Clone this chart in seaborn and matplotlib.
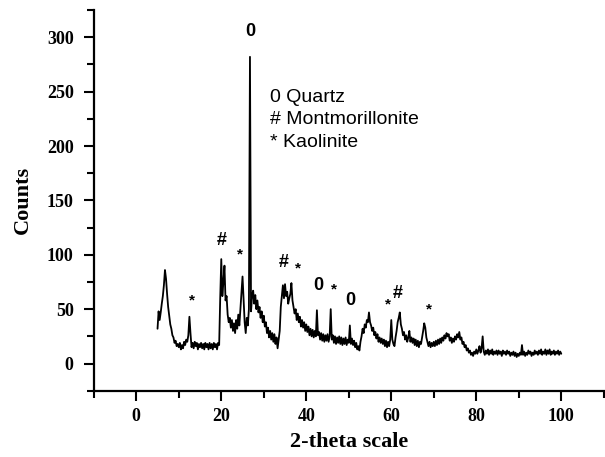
import numpy as np
import pandas as pd
import matplotlib
matplotlib.use('Agg')
import matplotlib.pyplot as plt
from matplotlib.ticker import MultipleLocator
import seaborn as sns

# 2-theta grid, 0.25 deg steps from 5 to 100
two_theta = np.arange(5.0, 100.001, 0.25)

# counts, one row per 5 degrees
counts = [
    32, 48, 40, 47, 55, 62, 72, 86, 78, 64, 52, 44, 36, 32, 26, 24, 19, 21, 16, 18,   # 5
    15, 19, 13, 17, 14, 20, 17, 22, 20, 26, 43, 28, 15, 19, 14, 20, 16, 19, 13, 18,   # 10
    15, 19, 14, 18, 13, 19, 15, 18, 13, 19, 14, 18, 13, 19, 15, 18, 13, 19, 17, 60,   # 15
    96, 62, 75, 90, 58, 62, 45, 38, 42, 33, 40, 30, 37, 28, 40, 32, 45, 35, 50, 65,   # 20
    80, 60, 38, 28, 42, 35, 50, 282, 48, 62, 67, 55, 63, 50, 58, 47, 52, 42, 48, 38,  # 25
    44, 34, 38, 28, 33, 24, 30, 22, 28, 20, 27, 18, 24, 14, 22, 30, 52, 62, 72, 60,   # 30
    73, 62, 66, 55, 60, 64, 74, 58, 52, 46, 50, 40, 46, 38, 43, 34, 40, 33, 38, 30,   # 35
    36, 29, 34, 26, 32, 25, 31, 24, 30, 25, 49, 26, 29, 22, 28, 21, 27, 20, 26, 21,   # 40
    27, 20, 25, 50, 22, 26, 19, 25, 18, 24, 19, 25, 18, 24, 17, 23, 18, 24, 17, 22,   # 45
    19, 35, 18, 23, 17, 21, 15, 19, 13, 16, 12, 20, 25, 32, 28, 36, 33, 40, 38, 47,   # 50
    38, 35, 30, 33, 26, 29, 23, 27, 20, 24, 19, 23, 18, 22, 16, 21, 15, 20, 16, 22,   # 55
    40, 22, 18, 16, 24, 30, 38, 42, 47, 36, 32, 26, 29, 22, 26, 20, 24, 30, 20, 24,   # 60
    19, 23, 17, 22, 16, 21, 15, 20, 18, 24, 30, 37, 33, 24, 20, 16, 20, 15, 19, 16,   # 65
    20, 16, 21, 17, 22, 18, 23, 19, 24, 21, 26, 23, 28, 25, 27, 21, 24, 19, 23, 20,   # 70
    25, 22, 27, 24, 29, 22, 24, 18, 20, 15, 17, 12, 14, 10, 12, 8, 10, 7, 11, 9,      # 75
    13, 9, 12, 16, 10, 14, 25, 11, 8, 12, 9, 13, 8, 12, 9, 13, 8, 11, 9, 12,          # 80
    8, 12, 9, 11, 7, 12, 9, 11, 8, 12, 9, 11, 7, 10, 8, 11, 7, 10, 6, 9,              # 85
    7, 10, 8, 17, 8, 11, 7, 10, 8, 12, 9, 11, 7, 10, 8, 12, 9, 11, 8, 12,             # 90
    9, 13, 8, 11, 9, 13, 8, 12, 9, 13, 8, 11, 9, 12, 8, 11, 9, 12, 8, 11,             # 95
    9,                                                                                 # 100
]

# phase marks above the peaks
peak_marks = ['0', '*', '#', '*', '#', '*', '0', '*', '0', '*', '#', '*']
peak_x = [26.8, 13.2, 20.2, 24.5, 34.8, 38.1, 42.8, 46.4, 50.4, 59.3, 61.6, 68.9]
peak_y = [305, 58, 113, 100, 93, 87, 72, 68, 58, 54, 64, 50]

key_lines = ['0 Quartz', '# Montmorillonite', '* Kaolinite']
key_y = [245, 224, 203]


def main():
    df = pd.DataFrame({'two_theta': two_theta, 'counts': counts})

    sns.set_style('ticks')
    plt.rcParams['font.family'] = ['Liberation Serif', 'DejaVu Serif']
    plt.rcParams['text.color'] = 'black'
    plt.rcParams['axes.labelcolor'] = 'black'
    plt.rcParams['xtick.color'] = 'black'
    plt.rcParams['ytick.color'] = 'black'
    sans = ['Liberation Sans', 'DejaVu Sans']

    fig = plt.figure(figsize=(6.05, 4.57), dpi=100)
    ax = fig.add_axes([0.155, 0.145, 0.843, 0.833])

    sns.lineplot(data=df, x='two_theta', y='counts', color='black',
                 linewidth=1.3, ax=ax)

    for m, x, y in zip(peak_marks, peak_x, peak_y):
        size = 11 if m == '*' else 13
        ax.text(x, y, m, ha='center', va='center', fontsize=size,
                fontweight='bold', family=sans, color='black')

    for line, y in zip(key_lines, key_y):
        ax.text(31.5, y, line, ha='left', va='center', fontsize=14,
                family=sans, color='black')

    ax.set_xlim(-10, 110)
    ax.set_ylim(-25, 325)
    ax.set_xticks([0, 20, 40, 60, 80, 100])
    ax.set_yticks([0, 50, 100, 150, 200, 250, 300])
    ax.xaxis.set_minor_locator(MultipleLocator(10))
    ax.yaxis.set_minor_locator(MultipleLocator(25))

    ax.tick_params(which='major', direction='out', length=7.5, width=1.5,
                   labelsize=13, colors='black')
    ax.tick_params(axis='y', which='major', pad=7)
    ax.tick_params(axis='x', which='major', pad=5)
    ax.tick_params(which='minor', direction='out', length=5, width=1.5,
                   colors='black')
    for lab in ax.get_xticklabels() + ax.get_yticklabels():
        lab.set_fontweight('bold')

    sns.despine(ax=ax)
    for side in ['left', 'bottom']:
        ax.spines[side].set_linewidth(1.6)
        ax.spines[side].set_color('black')

    ax.set_xlabel('2-theta scale', fontsize=16, fontweight='bold', labelpad=5)
    ax.set_ylabel('Counts', fontsize=16, fontweight='bold', labelpad=10)

    fig.savefig('out.png', dpi=100, facecolor='white')


if __name__ == '__main__':
    main()
